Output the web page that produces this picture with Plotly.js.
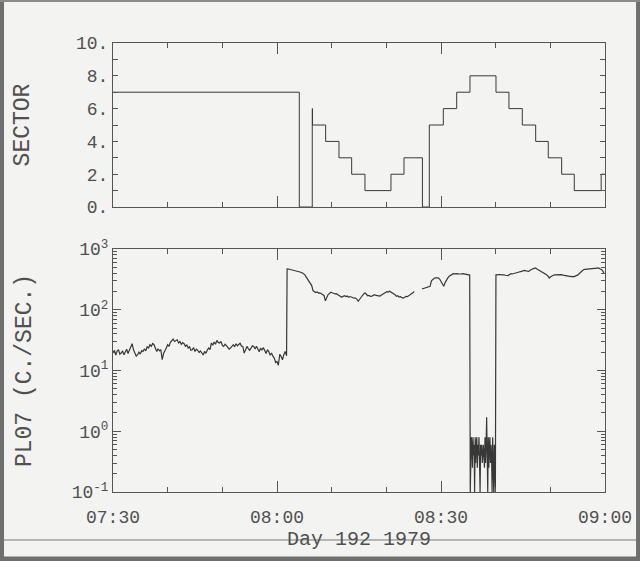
<!DOCTYPE html>
<html>
<head>
<meta charset="utf-8">
<script src="https://cdn.plot.ly/plotly-3.0.1.min.js"></script>
<style>
  html, body { margin: 0; padding: 0; background: #f3f3f1; }
  #chart { width: 640px; height: 561px; }
</style>
</head>
<body>
<div id="chart"></div>
<script>
// ---- Data (times are minutes after 07:30, Day 192 1979) ----
const dayStart = "1979-07-11T07:30:00Z";
const xTickLabels = ["07:30", "08:00", "08:30", "09:00"];
const sectorTickVals = [0, 2, 4, 6, 8, 10];
const sectorTickText = ["0.", "2.", "4.", "6.", "8.", "10."];
const countTickVals = [0.1, 1, 10, 100, 1000];
const countTickText = ["10<sup>-1</sup>", "10<sup>0</sup>", "10<sup>1</sup>", "10<sup>2</sup>", "10<sup>3</sup>"];

// Sector step changes
const sectorMinutes = [0, 34.08, 36.45, 36.5, 38.9, 41.34, 43.66, 46.09, 50.85, 53.23, 56.6, 57.86,
  60.42, 62.87, 65.30, 70.06, 72.43, 74.87, 77.32, 79.62, 82.07, 84.38, 89.3, 90];
const sectorValues = [7, 0, 6, 5, 4, 3, 2, 1, 2, 3, 0, 5,
  6, 7, 8, 7, 6, 5, 4, 3, 2, 1, 2, 2];

// PL07 count rate segments (sampled every step minutes from start)
const segAStart = 0, segAStep = 0.25;
const segACounts = [
  19.5, 21.5, 18.0, 20.8, 22.0, 18.5, 19.4, 21.0, 18.2, 20.6, 22.4, 19.0,
  21.5, 25.0, 27.6, 22.0, 19.4, 17.2, 18.2, 20.0, 18.6, 21.2, 20.6, 22.8,
  21.0, 24.5, 23.4, 26.6, 25.0, 27.8, 26.6, 24.0, 20.6, 22.8, 21.0, 22.0,
  15.1, 19.0, 20.6, 23.5, 26.6, 25.0, 29.0, 30.5, 33.0, 30.0, 31.3, 32.0,
  28.4, 30.0, 27.0, 28.8, 27.6, 25.0, 26.2, 23.4, 24.5, 21.5, 22.0, 23.8,
  20.5, 22.5, 21.5, 19.8, 21.0, 19.4, 18.0, 20.6, 19.2, 21.8, 23.4, 22.0,
  28.4, 26.0, 29.5, 27.0, 31.3, 29.0, 28.4, 30.2, 26.0, 24.9, 27.0, 25.6,
  24.0, 22.5, 23.4, 25.2, 26.6, 24.5, 27.6, 25.5, 26.6, 28.0, 25.2, 24.9,
  19.4, 22.0, 24.9, 23.0, 21.6, 23.4, 25.5, 24.9, 22.5, 25.0, 22.0, 20.4,
  23.4, 21.5, 24.0, 20.6, 19.0, 22.0, 20.5, 17.8, 19.4, 17.2, 16.0, 13.5,
  14.1, 12.2, 18.5, 17.1, 15.0, 18.2, 20.6, 17.5];
const segBStart = 31.85, segBStep = 0.25;
const segBCounts = [
  470, 468, 462, 465, 455, 452, 440, 432, 428, 420, 414, 405, 390, 375, 345, 318,
  295, 270, 250, 205, 198, 192, 196, 188, 190, 182, 178, 172, 140, 160, 178, 185,
  195, 190, 186, 182, 184, 176, 170, 166, 160, 166, 170, 165, 168, 160, 165, 162,
  158, 155, 156, 150, 138, 150, 165, 170, 182, 190, 180, 170, 172, 166, 168, 174,
  177, 172, 170, 166, 168, 175, 182, 190, 192, 198, 196, 202, 195, 190, 188, 176,
  166, 170, 162, 164, 158, 156, 160, 166, 164, 170, 176, 178, 190, 200];
const segCStart = 56.5, segCStep = 0.25;
const segCCounts = [
  220, 224, 222, 228, 230, 236, 243, 300, 318, 330, 335, 332, 334, 320, 290, 270,
  243, 280, 313, 335, 355, 370, 382, 392, 390, 395, 392, 388, 394, 390, 392, 388,
  387, 384, 380, 372];
const segDStart = 65.35, segDStep = 0.1;
const segDCounts = [
  0.1, 0.3, 0.8, 0.6, 0.25, 0.8, 0.4, 0.6, 0.1, 0.8, 0.3, 0.6, 0.8, 0.25, 0.6, 0.4,
  0.8, 0.3, 0.1, 0.6, 0.4, 0.6, 0.3, 0.4, 0.6, 0.4, 0.25, 0.8, 0.3, 0.6, 1.7, 0.4,
  0.1, 0.8, 0.25, 0.6, 0.8, 0.3, 0.6, 0.4, 0.1, 0.8, 0.25, 0.1, 0.6, 0.3, 0.1];
const segEStart = 70.05, segEStep = 0.25;
const segECounts = [
  375, 378, 372, 380, 376, 378, 374, 370, 372, 366, 380, 392, 388, 396, 400, 402,
  410, 418, 424, 428, 438, 445, 436, 430, 428, 448, 466, 472, 480, 487, 470, 456,
  440, 428, 415, 408, 392, 378, 360, 333, 350, 365, 370, 376, 378, 382, 376, 380,
  378, 372, 368, 364, 360, 352, 346, 350, 354, 348, 358, 363, 375, 395, 420, 445,
  456, 462, 466, 469, 465, 470, 468, 472, 476, 480, 485, 487, 478, 462, 440, 405];

// ---- Helpers ----
const t0 = Date.parse(dayStart);
function toTime(m) {
  const d = new Date(t0 + Math.round(m * 60000));
  return d.toISOString().replace("T", " ").replace("Z", "");
}
const countX = [], countY = [];
function addSeg(start, step, vals) {
  vals.forEach((v, i) => { countX.push(toTime(start + i * step)); countY.push(v); });
}
addSeg(segAStart, segAStep, segACounts);
addSeg(segBStart, segBStep, segBCounts);
countX.push(toTime(55.8)); countY.push(null); // data gap
addSeg(segCStart, segCStep, segCCounts);
addSeg(segDStart, segDStep, segDCounts);
addSeg(segEStart, segEStep, segECounts);

// log-axis minor tick positions (2..9 in each decade)
const logMinor = [];
[0.1, 1, 10, 100].forEach(d => { for (let k = 2; k <= 9; k++) logMinor.push(d * k); });

const lineColor = "#383838";
const axisColor = "#555";
const txtColor = "#505050";
const monoFont = "Liberation Mono, DejaVu Sans Mono, monospace";

const traces = [
  { x: sectorMinutes.map(toTime), y: sectorValues, type: "scatter", mode: "lines",
    line: { shape: "hv", color: lineColor, width: 1 }, xaxis: "x2", yaxis: "y2",
    hoverinfo: "skip", showlegend: false },
  { x: countX, y: countY, type: "scatter", mode: "lines",
    line: { color: lineColor, width: 1.2 }, xaxis: "x", yaxis: "y",
    connectgaps: false, showlegend: false }
];

const xRange = [toTime(0), toTime(90)];
const commonX = {
  type: "date", range: xRange, showgrid: false, zeroline: false,
  showline: true, linecolor: axisColor, linewidth: 1, mirror: "ticks",
  ticks: "inside", ticklen: 11, tickcolor: axisColor, tickwidth: 1,
  dtick: 30 * 60000, tick0: toTime(0), tickformat: "%H:%M",
  minor: { dtick: 10 * 60000, ticks: "inside", ticklen: 5, tickcolor: axisColor, showgrid: false },
  tickfont: { family: monoFont, size: 18, color: txtColor }
};

const layout = {
  width: 640, height: 561,
  margin: { l: 113, r: 35, t: 43, b: 69 },
  paper_bgcolor: "#f3f3f1", plot_bgcolor: "#f3f3f1",
  showlegend: false,
  xaxis: Object.assign({}, commonX, {
    anchor: "y", ticklabelstandoff: 8,
    title: { text: "Day 192 1979", standoff: 1,
      font: { family: monoFont, size: 20, color: txtColor } }
  }),
  xaxis2: Object.assign({}, commonX, { anchor: "y2", matches: "x", showticklabels: false }),
  yaxis: {
    domain: [0, 0.5412], type: "log", range: [-1, 3], anchor: "x",
    showgrid: false, zeroline: false, showline: true, linecolor: axisColor, mirror: "ticks",
    ticks: "inside", ticklen: 8, tickcolor: axisColor,
    tickvals: countTickVals, ticktext: countTickText,
    minor: { tickmode: "array", tickvals: logMinor, ticks: "inside", ticklen: 4,
      tickcolor: axisColor, showgrid: false },
    tickfont: { family: monoFont, size: 18, color: txtColor },
    title: { text: "PL07 (C./SEC.)", standoff: 33,
      font: { family: monoFont, size: 23, color: txtColor } }
  },
  yaxis2: {
    domain: [0.6347, 1], range: [0, 10], anchor: "x2",
    showgrid: false, zeroline: false, showline: true, linecolor: axisColor, mirror: "ticks",
    ticks: "inside", ticklen: 5, tickcolor: axisColor,
    tickvals: sectorTickVals, ticktext: sectorTickText,
    minor: { tickmode: "array", tickvals: [1, 3, 5, 7, 9], ticks: "inside", ticklen: 5,
      tickcolor: axisColor, showgrid: false },
    tickfont: { family: monoFont, size: 18, color: txtColor },
    title: { text: "SECTOR", standoff: 39,
      font: { family: monoFont, size: 23, color: txtColor } }
  },
  shapes: [
    // horizontal rule through the x title
    { type: "line", xref: "paper", yref: "paper", x0: -0.2297, x1: 1.0712, y0: -0.1069, y1: -0.1069,
      line: { color: "#777", width: 1 } },
    // photo frame
    { type: "rect", xref: "paper", yref: "paper", x0: -0.2297, x1: -0.2215, y0: -0.1537, y1: 1.0958,
      fillcolor: "#6f6f6f", line: { width: 0 } },
    { type: "rect", xref: "paper", yref: "paper", x0: 1.0631, x1: 1.0712, y0: -0.1537, y1: 1.0958,
      fillcolor: "#6f6f6f", line: { width: 0 } },
    { type: "rect", xref: "paper", yref: "paper", x0: -0.2297, x1: 1.0712, y0: -0.1537, y1: -0.1436,
      fillcolor: "#6f6f6f", line: { width: 0 } },
    { type: "rect", xref: "paper", yref: "paper", x0: -0.2297, x1: 1.0712, y0: 1.0914, y1: 1.0958,
      fillcolor: "#8a8a8a", line: { width: 0 } }
  ]
};

Plotly.newPlot("chart", traces, layout, { staticPlot: true, displayModeBar: false });
</script>
</body>
</html>
